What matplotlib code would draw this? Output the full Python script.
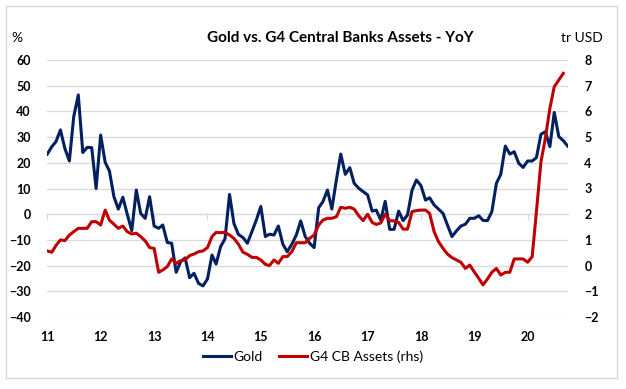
import numpy as np
import pandas as pd
import matplotlib
matplotlib.use("Agg")
import matplotlib.pyplot as plt
from matplotlib.patches import Rectangle

plt.rcParams['font.family'] = ['Lato', 'DejaVu Sans']

# gold yoy (%), monthly from Jan 2011
gold = [23.4, 26.3, 28.2, 32.8, 25.6, 20.7, 38.0, 46.4, 24.0, 26.0, 25.9, 10.0,
        30.8, 20.2, 16.8, 6.8, 2.0, 6.6, 0.0, -6.4, 9.4, 0.3, -1.6, 6.8,
        -4.6, -5.5, -4.2, -11.0, -11.3, -22.6, -18.5, -17.0, -24.7, -23.0, -26.9, -27.9,
        -25.2, -15.9, -19.4, -12.6, -9.6, 7.7, -3.6, -7.9, -9.1, -11.3, -6.8, -2.3,
        3.0, -8.7, -7.8, -8.1, -4.6, -11.7, -14.6, -11.7, -8.1, -2.6, -8.7, -11.3,
        -13.0, 2.5, 4.9, 9.4, 2.0, 13.3, 23.4, 15.5, 18.1, 12.0, 10.1, 8.8,
        7.5, 1.2, 1.6, -2.3, 5.0, -5.9, -5.9, 1.2, -2.5, -0.3, 9.4, 13.3,
        11.1, 5.5, 6.4, 3.6, 2.0, 0.3, -4.2, -8.7, -6.5, -4.6, -3.9, -1.6,
        -1.6, -0.6, -2.4, -2.5, 1.0, 12.0, 15.5, 26.5, 23.4, 24.3, 19.8, 18.2,
        20.7, 20.7, 22.0, 31.1, 32.1, 26.3, 39.6, 30.2, 28.6, 26.5]

# G4 central bank assets yoy change (tr USD)
g4 = [0.57, 0.52, 0.78, 1.00, 0.97, 1.19, 1.32, 1.45, 1.45, 1.45, 1.71, 1.71,
      1.58, 2.16, 1.77, 1.61, 1.45, 1.54, 1.32, 1.23, 1.26, 1.13, 0.96, 0.70,
      0.67, -0.26, -0.17, -0.04, 0.26, 0.09, 0.19, 0.22, 0.39, 0.45, 0.54, 0.57,
      0.70, 1.13, 1.29, 1.28, 1.29, 1.19, 1.06, 0.83, 0.52, 0.44, 0.32, 0.32,
      0.22, 0.05, 0.00, 0.22, 0.09, 0.35, 0.35, 0.54, 0.89, 0.89, 0.89, 1.06,
      1.19, 1.58, 1.77, 1.84, 1.84, 1.90, 2.27, 2.23, 2.27, 2.20, 1.94, 1.75,
      2.00, 1.68, 1.60, 1.66, 2.00, 1.75, 1.74, 1.68, 1.42, 1.42, 2.10, 2.14,
      2.16, 2.16, 2.03, 1.32, 0.93, 0.67, 0.45, 0.31, 0.22, 0.13, -0.11, 0.02,
      -0.25, -0.50, -0.75, -0.52, -0.26, -0.11, -0.37, -0.26, -0.26, 0.26, 0.26, 0.26,
      0.13, 0.35, 2.10, 4.04, 4.95, 6.12, 6.96, 7.22, 7.48]

years = list(range(2011, 2021))
year_labels = [str(y)[2:] for y in years]

dates_gold = pd.date_range("2011-01-01", periods=len(gold), freq="MS")
dates_g4 = pd.date_range("2011-01-01", periods=len(g4), freq="MS")
year_ticks = [pd.Timestamp(f"{y}-01-01") for y in years]

W, H = 626, 389
fig = plt.figure(figsize=(W / 100, H / 100), dpi=100)
ax = fig.add_axes([47.3 / W, 1 - 317 / H, (567.7 - 47.3) / W, (317 - 60) / H])
ax2 = ax.twinx()

grid_c = "#d9d9d9"
ax.set_ylim(-40, 60)
ax.set_yticks(np.arange(-40, 61, 10))
ax.grid(axis="y", color=grid_c, lw=0.9)
ax.set_axisbelow(True)
ax.set_xlim(dates_gold[0], dates_gold[-1])
ax.set_xticks(year_ticks)
ax.set_xticklabels(year_labels)
ax.tick_params(axis="x", length=0, pad=10)
ax.tick_params(axis="y", length=0, pad=12)
for lab in ax.get_xticklabels() + ax.get_yticklabels():
    lab.set_fontweight("bold")
    lab.set_fontsize(9)

ax2.set_ylim(-2, 8)
ax2.set_yticks(np.arange(-2, 9, 1))
ax2.tick_params(axis="y", length=0, pad=12)
for lab in ax2.get_yticklabels():
    lab.set_fontweight("bold")
    lab.set_fontsize(9)

for a in (ax, ax2):
    for s in a.spines.values():
        s.set_visible(False)

# axis line at zero with year ticks
zero = ax.secondary_xaxis(0.4)
zero.set_xticks(year_ticks)
zero.set_xticklabels([])
zero.tick_params(length=4, color=grid_c, width=0.9)
for k, s in zero.spines.items():
    s.set_visible(k == "bottom")
zero.spines["bottom"].set_color(grid_c)
zero.spines["bottom"].set_linewidth(0.9)

l1, = ax.plot(dates_gold, gold, color="#002060", lw=2.2, label="Gold")
l2, = ax2.plot(dates_g4, g4, color="#c00000", lw=2.2, label="G4 CB Assets (rhs)")

fig.text(340 / W, 1 - 38 / H, "Gold vs. G4 Central Banks Assets - YoY",
         ha="center", va="center", fontsize=11, fontweight="bold")
fig.text(11 / W, 1 - 38 / H, "%", ha="left", va="center", fontsize=10)
fig.text(603 / W, 1 - 38 / H, "tr USD", ha="right", va="center", fontsize=10)

fig.legend([l1, l2], ["Gold", "G4 CB Assets (rhs)"], loc="center",
           bbox_to_anchor=(313 / W, 1 - 357 / H), ncol=2, frameon=False,
           fontsize=10, handlelength=2.0, handletextpad=0.2, columnspacing=1.2)

fig.patches.append(Rectangle((6 / W, 11 / H), (617 - 6) / W, (378 - 6) / H,
                             transform=fig.transFigure, fill=False,
                             edgecolor=grid_c, lw=1))

fig.savefig("out.png", dpi=100)
